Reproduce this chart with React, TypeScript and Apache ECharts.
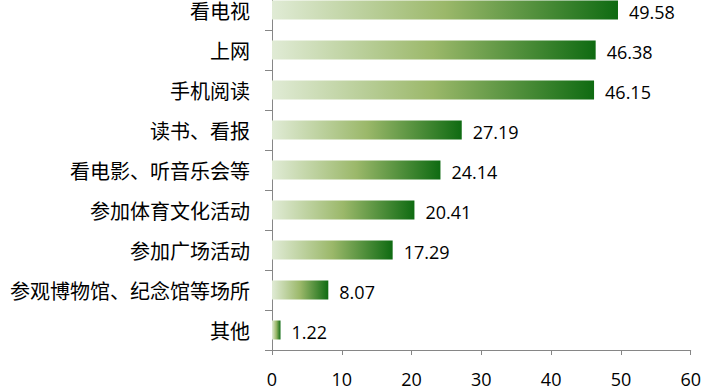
import React, { useEffect, useRef } from "react";
import * as echarts from "echarts";

const categories = [
  "看电视",
  "上网",
  "手机阅读",
  "读书、看报",
  "看电影、听音乐会等",
  "参加体育文化活动",
  "参加广场活动",
  "参观博物馆、纪念馆等场所",
  "其他",
];
const values = [49.58, 46.38, 46.15, 27.19, 24.14, 20.41, 17.29, 8.07, 1.22];
const axisMin = 0;
const axisMax = 60;
const axisStep = 10;

export default function App() {
  const ref = useRef<HTMLDivElement>(null);
  useEffect(() => {
    if (!ref.current) return;
    const chart = echarts.init(ref.current, undefined, { renderer: "svg" });
    const gradient = new echarts.graphic.LinearGradient(0, 0, 1, 0, [
      { offset: 0, color: "#e0ebd5" },
      { offset: 0.5, color: "#9bb86a" },
      { offset: 1, color: "#0f6b12" },
    ]);
    chart.setOption({
      animation: false,
      grid: { left: 272, right: 11, top: 0, bottom: 40, containLabel: false },
      xAxis: {
        type: "value",
        min: axisMin,
        max: axisMax,
        interval: axisStep,
        splitLine: { show: false },
        axisLine: { show: true, lineStyle: { color: "#868686", width: 1 } },
        axisTick: { show: true, length: 5, lineStyle: { color: "#868686" } },
        axisLabel: {
          margin: 20,
          fontSize: 18,
          lineHeight: 18,
          color: "#000",
          fontFamily: "Open Sans",
        },
      },
      yAxis: {
        type: "category",
        inverse: true,
        data: categories,
        axisLine: { show: true, lineStyle: { color: "#868686", width: 1 } },
        axisTick: { show: true, length: 7, lineStyle: { color: "#868686" } },
        axisLabel: {
          margin: 22,
          fontSize: 20,
          lineHeight: 18,
          padding: [3, 0, 0, 0],
          color: "#000",
          fontFamily: "Noto Sans CJK SC",
        },
      },
      series: [
        {
          type: "bar",
          data: values,
          barWidth: 19,
          itemStyle: { color: gradient },
          label: {
            show: true,
            position: "right",
            distance: 11,
            offset: [0, 2],
            fontSize: 18,
            lineHeight: 16,
            color: "#000",
            fontFamily: "Open Sans",
            formatter: (p: any) => Number(p.value).toFixed(2),
          },
        },
      ],
    });
    return () => chart.dispose();
  }, []);
  return (
    <div
      ref={ref}
      style={{ position: "fixed", left: 0, top: -10, width: 704, height: 400, background: "#fff" }}
    />
  );
}
